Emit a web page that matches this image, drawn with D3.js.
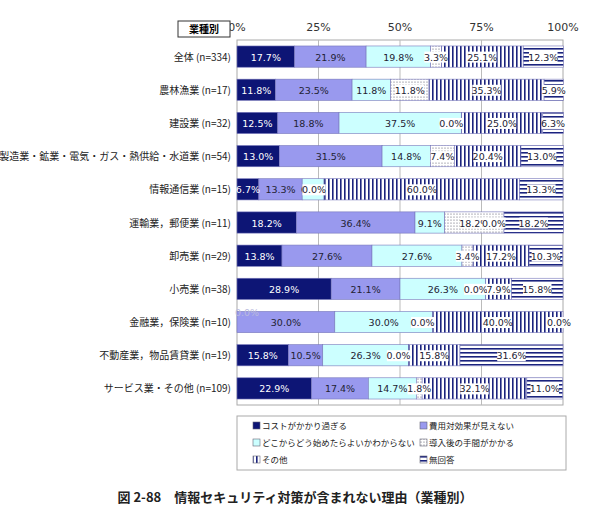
<!DOCTYPE html>
<html><head><meta charset="utf-8">
<script src="https://cdnjs.cloudflare.com/ajax/libs/d3/7.8.5/d3.min.js"></script>
<style>body{margin:0;background:#fff;font-family:"Noto Sans CJK JP",sans-serif;}</style>
</head><body><svg id="c" width="590" height="517"></svg>
<script>
const industries = ["全体 (n=334)","農林漁業 (n=17)","建設業 (n=32)","製造業・鉱業・電気・ガス・熱供給・水道業 (n=54)","情報通信業 (n=15)","運輸業，郵便業 (n=11)","卸売業 (n=29)","小売業 (n=38)","金融業，保険業 (n=10)","不動産業，物品賃貸業 (n=19)","サービス業・その他 (n=109)"];
const reasons = ["コストがかかり過ぎる","費用対効果が見えない","どこからどう始めたらよいかわからない","導入後の手間がかかる","その他","無回答"];
const cost     = [17.7,11.8,12.5,13.0,6.7,18.2,13.8,28.9,0.0,15.8,22.9];
const effect   = [21.9,23.5,18.8,31.5,13.3,36.4,27.6,21.1,30.0,10.5,17.4];
const where    = [19.8,11.8,37.5,14.8,6.7,9.1,27.6,26.3,30.0,26.3,14.7];
const effort   = [3.3,11.8,0.0,7.4,0.0,18.2,3.4,0.0,0.0,0.0,1.8];
const other    = [25.1,35.3,25.0,20.4,60.0,0.0,17.2,7.9,40.0,15.8,32.1];
const noanswer = [12.3,5.9,6.3,13.0,13.3,18.2,10.3,15.8,0.0,31.6,11.0];
const ticks = ["0%","25%","50%","75%","100%"];
const series = [cost,effect,where,effort,other,noanswer];

const svg = d3.select("#c");
const defs = svg.append("defs");
let p = defs.append("pattern").attr("id","dots").attr("width",3).attr("height",3).attr("patternUnits","userSpaceOnUse");
p.append("rect").attr("width",3).attr("height",3).attr("fill","#fff");
p.append("circle").attr("cx",1).attr("cy",1).attr("r",0.6).attr("fill","#556");
p = defs.append("pattern").attr("id","vert").attr("width",4).attr("height",4).attr("patternUnits","userSpaceOnUse");
p.append("rect").attr("width",4).attr("height",4).attr("fill","#fff");
p.append("rect").attr("width",1.6).attr("height",4).attr("fill","#1a237e");
p = defs.append("pattern").attr("id","horz").attr("width",4).attr("height",4).attr("patternUnits","userSpaceOnUse");
p.append("rect").attr("width",4).attr("height",4).attr("fill","#fff");
p.append("rect").attr("width",4).attr("height",1.6).attr("fill","#1a237e");
const fills = ["#0d1575","#9999ee","#ccffff","url(#dots)","url(#vert)","url(#horz)"];

const x = d3.scaleLinear().domain([0,100]).range([237,563]);
const y = d3.scaleBand().domain(industries).range([40,405]).paddingInner(0.36).paddingOuter(0.18);

svg.append("rect").attr("x",237).attr("y",40).attr("width",326).attr("height",365).attr("fill","none").attr("stroke","#aaa");
[25,50,75].forEach(v=>svg.append("line").attr("x1",x(v)).attr("x2",x(v)).attr("y1",40).attr("y2",405).attr("stroke","#bbb"));
ticks.forEach((t,i)=>svg.append("text").attr("x",x(i*25)).attr("y",31).attr("text-anchor","middle").attr("font-size",11).attr("fill","#333").attr("font-family","DejaVu Sans, sans-serif").text(t));

svg.append("rect").attr("x",178).attr("y",21).attr("width",52).attr("height",16).attr("fill","#fff").attr("stroke","#333");
svg.append("text").attr("x",204).attr("y",33).attr("text-anchor","middle").attr("font-size",10).attr("font-weight","bold").text("業種別");

const labels = [];
industries.forEach((ind,i)=>{
  const yy = y(ind), h = y.bandwidth();
  svg.append("text").attr("x",231).attr("y",yy+h/2+4).attr("text-anchor","end").attr("font-size",10).attr("fill","#222").text(ind);
  let acc = 0, prevSmall = false;
  series.forEach((s,k)=>{
    const v = s[i];
    svg.append("rect").attr("x",x(acc)).attr("y",yy).attr("width",x(acc+v)-x(acc)).attr("height",h)
      .attr("fill",fills[k]).attr("stroke","#7777bb").attr("stroke-width",0.6);
    let cx = x(acc+v/2), cy = yy+h/2+4;
    const small = v < 6;
    if (small && prevSmall) { cy += 9; prevSmall = false; } else prevSmall = small;
    if (v === 0 && k===0) { cx = x(0)+10; cy = yy+5; }
    if (small && v===0 && k>0 && k<5) cx = x(acc) - 10;
    if (v === 0 && k===5) cx = x(100)-4;
    labels.push({cx, cy, k, v});
    acc += v;
  });
});
labels.forEach(({cx,cy,k,v})=>{
  const lbl = v.toFixed(1)+"%";
  const tw = lbl.length*5.3+2;
  if (k>=3 || (v===0 && k>0)) {
    svg.append("rect").attr("x",cx-tw/2).attr("y",cy-9).attr("width",tw).attr("height",11).attr("fill","#fff");
  }
  svg.append("text").attr("x",cx).attr("y",cy).attr("text-anchor","middle").attr("font-size",9.5)
    .attr("font-family","DejaVu Sans, sans-serif")
    .attr("fill", k===0 ? (v>0 ? "#fff" : "#bbd") : "#223").text(lbl);
});

svg.append("rect").attr("x",237).attr("y",416).attr("width",329).attr("height",54).attr("fill","#fff").attr("stroke","#aaa");
reasons.forEach((r,k)=>{
  const lx = k%2===0 ? 253 : 420, ly = 425 + Math.floor(k/2)*17;
  svg.append("rect").attr("x",lx).attr("y",ly-3).attr("width",7).attr("height",7).attr("fill",fills[k]).attr("stroke","#667").attr("stroke-width",0.6);
  svg.append("text").attr("x",lx+9).attr("y",ly+4).attr("font-size",8.5).attr("fill","#222").text(r);
});

svg.append("text").attr("x",295).attr("y",502).attr("text-anchor","middle").attr("font-size",13).attr("font-weight","bold").attr("fill","#222")
  .text("図 2-88　情報セキュリティ対策が含まれない理由（業種別）");
</script></body></html>
